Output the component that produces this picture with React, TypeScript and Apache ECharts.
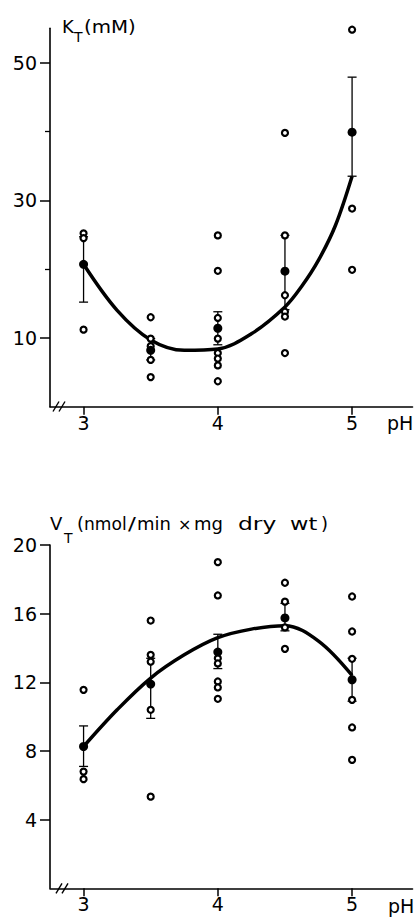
import React, { useEffect, useRef } from "react";
import * as echarts from "echarts";

// ---------- data ----------
const phLevels = [3, 3.5, 4, 4.5, 5];

// K_T (mM) chart
const kSingles: [number, number][] = [
  [3, 25.2], [3, 24.5], [3, 11.2],
  [3.5, 13.0], [3.5, 9.9], [3.5, 8.8], [3.5, 6.8], [3.5, 4.3],
  [4, 24.9], [4, 19.75], [4, 12.9], [4, 9.9], [4, 7.8], [4, 7.0], [4, 6.0], [4, 3.7],
  [4.5, 39.8], [4.5, 24.9], [4.5, 16.2], [4.5, 13.8], [4.5, 13.1], [4.5, 7.8],
  [5, 55.3], [5, 54.8], [5, 28.8], [5, 19.9],
];
const kMeans = [20.7, 8.2, 11.4, 19.7, 39.9];
const kErrLow = [15.2, 6.8, 9.0, 14.1, 33.5];
const kErrHigh = [24.7, 9.9, 13.8, 24.9, 47.9];
const kFitPh = [3, 3.25, 3.5, 3.75, 4, 4.25, 4.5, 4.625, 4.75, 4.875, 5];
const kFitVal = [20.7, 14.0, 9.7, 8.2, 8.4, 10.6, 14.5, 17.5, 21.3, 26.3, 33.5];
const kTickLabels = [10, 30, 50];
const kMinorTicks = [20, 40];

// V_T chart
const vSingles: [number, number][] = [
  [3, 11.56], [3, 6.8], [3, 6.36],
  [3.5, 15.6], [3.5, 13.6], [3.5, 13.2], [3.5, 10.4], [3.5, 5.34],
  [4, 19.0], [4, 17.06], [4, 13.4], [4, 13.1], [4, 12.05], [4, 11.7], [4, 11.04],
  [4.5, 17.8], [4.5, 16.7], [4.5, 15.2], [4.5, 13.95],
  [5, 17.0], [5, 14.96], [5, 13.37], [5, 10.98], [5, 9.37], [5, 7.48],
];
const vMeans = [8.26, 11.9, 13.76, 15.75, 12.15];
const vErrLow = [7.1, 9.9, 12.8, 15.0, 10.9];
const vErrHigh = [9.46, 13.4, 14.8, 16.6, 13.4];
const vFitPh = [3, 3.25, 3.5, 3.75, 4, 4.25, 4.5, 4.75, 5];
const vFitVal = [8.26, 10.4, 12.25, 13.6, 14.6, 15.1, 15.3, 14.4, 12.4];
const vTickLabels = [4, 8, 12, 16, 20];

const xTickLabels = [3, 4, 5];

// ---------- styling ----------
const FONT = "DejaVu Sans";
const INK = "#000";

function xAxisDef(gridIndex: number, margin: number) {
  return {
    type: "value",
    gridIndex,
    min: 2.75,
    max: 5.45,
    axisLine: { show: true, lineStyle: { color: INK, width: 1.6 } },
    axisTick: { show: true, length: 8, customValues: xTickLabels, lineStyle: { color: INK, width: 1.5 } },
    axisLabel: { customValues: xTickLabels, margin, fontSize: 19, color: INK, fontFamily: FONT },
    splitLine: { show: false },
  };
}

function errSeries(xi: number, lows: number[], highs: number[]) {
  return {
    type: "custom",
    xAxisIndex: xi,
    yAxisIndex: xi === 0 ? 0 : 2,
    z: 3,
    data: phLevels.map((p, i) => [p, lows[i], highs[i]]),
    encode: { x: 0, y: [1, 2] },
    renderItem: (params: any, api: any) => {
      const x = api.value(0);
      const lo = api.coord([x, api.value(1)]);
      const hi = api.coord([x, api.value(2)]);
      const w = 4.5;
      const st = { stroke: INK, lineWidth: 1.3 };
      return {
        type: "group",
        children: [
          { type: "line", shape: { x1: lo[0], y1: lo[1], x2: hi[0], y2: hi[1] }, style: st },
          { type: "line", shape: { x1: lo[0] - w, y1: lo[1], x2: lo[0] + w, y2: lo[1] }, style: st },
          { type: "line", shape: { x1: hi[0] - w, y1: hi[1], x2: hi[0] + w, y2: hi[1] }, style: st },
        ],
      };
    },
  };
}

function txt(text: string, x: number, baseline: number, fs: number, scaleX = 1) {
  return {
    type: "text",
    x,
    y: baseline - 0.346 * fs,
    scaleX,
    style: { text, font: `${fs}px "${FONT}"`, fill: INK, align: "left", verticalAlign: "middle" },
    z: 10,
  };
}

function brk(x: number, y: number) {
  const st = { stroke: INK, lineWidth: 1.4 };
  return [
    { type: "line", shape: { x1: x, y1: y + 5, x2: x + 6, y2: y - 5 }, style: st, z: 10 },
    { type: "line", shape: { x1: x + 6, y1: y + 5, x2: x + 12, y2: y - 5 }, style: st, z: 10 },
  ];
}

export default function App() {
  const ref = useRef<HTMLDivElement>(null);
  useEffect(() => {
    if (!ref.current) return;
    const chart = echarts.init(ref.current, undefined, { renderer: "svg" });
    const option: any = {
      animation: false,
      backgroundColor: "#fff",
      grid: [
        { left: 50, top: 28.3, width: 362.5, height: 378.4 },
        { left: 50, top: 545, width: 362.5, height: 343.3 },
      ],
      xAxis: [xAxisDef(0, 7), xAxisDef(1, 6)],
      yAxis: [
        {
          type: "value", gridIndex: 0, min: 0, max: 55,
          axisLine: { show: true, lineStyle: { color: INK, width: 1.6 } },
          axisTick: { show: true, length: 10, customValues: kTickLabels, lineStyle: { color: INK, width: 1.5 } },
          axisLabel: { customValues: kTickLabels, margin: 13, fontSize: 19, color: INK, fontFamily: FONT },
          splitLine: { show: false },
        },
        {
          type: "value", gridIndex: 0, min: 0, max: 55, position: "left",
          axisLine: { show: false },
          axisTick: { show: true, length: 5, customValues: kMinorTicks, lineStyle: { color: INK, width: 1.3 } },
          axisLabel: { show: false },
          splitLine: { show: false },
        },
        {
          type: "value", gridIndex: 1, min: 0, max: 20, interval: 4,
          axisLine: { show: true, lineStyle: { color: INK, width: 1.6 } },
          axisTick: { show: true, length: 10, customValues: vTickLabels, lineStyle: { color: INK, width: 1.5 } },
          axisLabel: { customValues: vTickLabels, margin: 13, fontSize: 19, color: INK, fontFamily: FONT },
          splitLine: { show: false },
        },
      ],
      series: [
        {
          type: "line", xAxisIndex: 0, yAxisIndex: 0, z: 2,
          data: kFitPh.map((p, i) => [p, kFitVal[i]]),
          smooth: 0.35, showSymbol: false, symbol: "none",
          lineStyle: { color: INK, width: 3.5 },
        },
        errSeries(0, kErrLow, kErrHigh),
        {
          type: "scatter", xAxisIndex: 0, yAxisIndex: 0, z: 4,
          data: kSingles, symbol: "circle", symbolSize: 6,
          itemStyle: { color: "#fff", borderColor: INK, borderWidth: 2.2, opacity: 1 },
        },
        {
          type: "scatter", xAxisIndex: 0, yAxisIndex: 0, z: 5,
          data: phLevels.map((p, i) => [p, kMeans[i]]), symbol: "circle", symbolSize: 9,
          itemStyle: { color: INK, opacity: 1 },
        },
        {
          type: "line", xAxisIndex: 1, yAxisIndex: 2, z: 2,
          data: vFitPh.map((p, i) => [p, vFitVal[i]]),
          smooth: 0.35, showSymbol: false, symbol: "none",
          lineStyle: { color: INK, width: 3.5 },
        },
        errSeries(1, vErrLow, vErrHigh),
        {
          type: "scatter", xAxisIndex: 1, yAxisIndex: 2, z: 4,
          data: vSingles, symbol: "circle", symbolSize: 6,
          itemStyle: { color: "#fff", borderColor: INK, borderWidth: 2.2, opacity: 1 },
        },
        {
          type: "scatter", xAxisIndex: 1, yAxisIndex: 2, z: 5,
          data: phLevels.map((p, i) => [p, vMeans[i]]), symbol: "circle", symbolSize: 9,
          itemStyle: { color: INK, opacity: 1 },
        },
      ],
      graphic: [
        // K_T(mM) title
        txt("K", 62, 32.5, 18),
        txt("T", 74, 42, 14),
        txt("(mM)", 84, 32.5, 18, 1.1),
        // V_T title
        txt("V", 50, 530, 18),
        txt("T", 64, 543, 14),
        txt("(", 77, 530, 18),
        txt("nmol", 84, 530, 18, 0.95),
        txt("/", 128, 530, 18, 1.3),
        txt("min", 137, 530, 18),
        txt("×", 178, 530, 16),
        txt("mg", 194, 530, 18),
        txt("dry", 238, 530, 18, 1.3),
        txt("wt", 290, 530, 18, 1.25),
        txt(")", 321, 530, 18),
        // pH axis names
        txt("pH", 387, 430, 19),
        txt("pH", 388, 913, 19),
        ...brk(53, 406.5),
        ...brk(56, 888.3),
      ],
    };
    chart.setOption(option);
    return () => chart.dispose();
  }, []);
  return (
    <div
      ref={ref}
      style={{ position: "fixed", left: 0, top: 0, width: 414, height: 923, background: "#fff" }}
    />
  );
}
